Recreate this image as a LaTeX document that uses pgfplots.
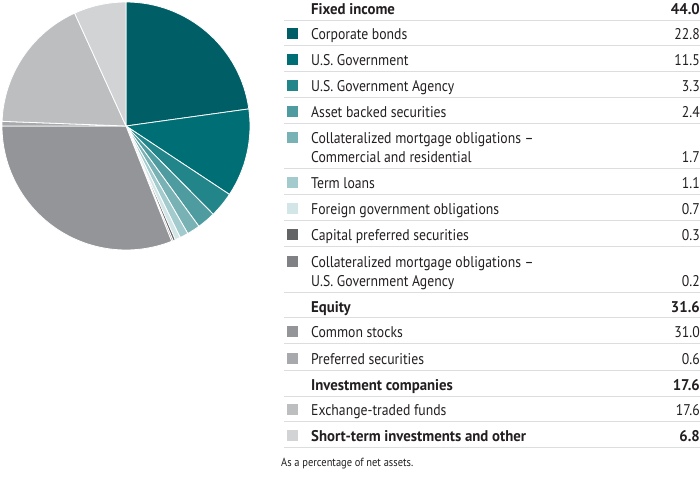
\documentclass[border=0pt]{standalone}
\usepackage{pgfplots}
\pgfplotsset{compat=1.18}
\usepackage{fontspec}
\setmainfont{PT Sans}[UprightFeatures={FakeStretch=0.885}, BoldFeatures={FakeStretch=0.955}]
\definecolor{c1}{HTML}{005F66}
\definecolor{c2}{HTML}{006E75}
\definecolor{c3}{HTML}{21858A}
\definecolor{c4}{HTML}{4E9CA0}
\definecolor{c5}{HTML}{78B2B5}
\definecolor{c6}{HTML}{A3CBCE}
\definecolor{c7}{HTML}{D3E6E7}
\definecolor{c8}{HTML}{636466}
\definecolor{c9}{HTML}{808184}
\definecolor{c10}{HTML}{939598}
\definecolor{c11}{HTML}{A7A9AC}
\definecolor{c12}{HTML}{BCBEC0}
\definecolor{c13}{HTML}{D1D3D4}
\definecolor{rulec}{HTML}{DCDDDE}
\definecolor{txt}{HTML}{231F20}
\newcommand\cum{0}
\newcommand\pieslice[2]{%
  \pgfmathsetmacro\sa{90-3.6*\cum}%
  \pgfmathsetmacro\ea{90-3.6*(\cum+#2)}%
  \pgfmathsetmacro\sx{cos(\sa)}%
  \pgfmathsetmacro\sy{sin(\sa)}%
  \pgfmathsetmacro\newcum{\cum+#2}%
  \xdef\cum{\newcum}%
  \edef\tmp{\noexpand\addplot[fill=#1, draw=white, line width=0.8pt, line join=round] coordinates {(0,0) (\sx,\sy)} arc[start angle=\sa, end angle=\ea, radius=124pt] -- cycle;}%
  \tmp}
\newcommand\fs{\fontsize{15.5}{18}\selectfont}
% row: baseline, colour (or none), label, value
\newcommand\itemrow[4]{%
  \ifx\relax#2\relax\else\fill[#2] (287,#1-11.5) rectangle (298.3,#1-1);\fi
  \node[anchor=base west, inner sep=0, text=txt] at (311,#1) {\fs #3};
  \node[anchor=base east, inner sep=0, text=txt] at (700,#1) {\fs #4};}
\begin{document}
\begin{tikzpicture}
\useasboundingbox (0,0) rectangle (700pt,-476pt);
\begin{axis}[at={(126pt,-126pt)}, anchor=origin, x=124pt, y=124pt,
  xmin=-1, xmax=1, ymin=-1, ymax=1, hide axis, clip=false]
\pieslice{c1}{22.8}
\pieslice{c2}{11.5}
\pieslice{c3}{3.3}
\pieslice{c4}{2.4}
\pieslice{c5}{1.7}
\pieslice{c6}{1.1}
\pieslice{c7}{0.7}
\pieslice{c8}{0.3}
\pieslice{c9}{0.2}
\pieslice{c10}{31.0}
\pieslice{c11}{0.6}
\pieslice{c12}{17.6}
\pieslice{c13}{6.8}
\end{axis}
\begin{scope}[x=1pt, y=-1pt]
\foreach \r in {20,45.3,71.3,97.3,123.3,168.3,194.3,220.3,246.3,292.3,317.3,343.3,370.3,396.3,421.3,447.3}
  \draw[rulec, line width=0.8pt] (284,\r) -- (700,\r);
\itemrow{14.3}{}{\textbf{Fixed income}}{\textbf{44.0}}
\itemrow{39.8}{c1}{Corporate bonds}{22.8}
\itemrow{65.8}{c2}{U.S. Government}{11.5}
\itemrow{91.8}{c3}{U.S. Government Agency}{3.3}
\itemrow{117.8}{c4}{Asset backed securities}{2.4}
\itemrow{143.8}{c5}{Collateralized mortgage obligations --}{}
\itemrow{162.8}{}{Commercial and residential}{1.7}
\itemrow{188.8}{c6}{Term loans}{1.1}
\itemrow{214.8}{c7}{Foreign government obligations}{0.7}
\itemrow{240.8}{c8}{Capital preferred securities}{0.3}
\itemrow{267.8}{c9}{Collateralized mortgage obligations --}{}
\itemrow{286.8}{}{U.S. Government Agency}{0.2}
\itemrow{312.3}{}{\textbf{Equity}}{\textbf{31.6}}
\itemrow{337.8}{c10}{Common stocks}{31.0}
\itemrow{364.8}{c11}{Preferred securities}{0.6}
\itemrow{390.8}{}{\textbf{Investment companies}}{\textbf{17.6}}
\itemrow{415.8}{c12}{Exchange-traded funds}{17.6}
\itemrow{441.8}{c13}{\textbf{Short-term investments and other}}{\textbf{6.8}}
\node[anchor=base west, inner sep=0, text=txt] at (281,466.5) {\fontsize{11.8}{14}\selectfont As a percentage of net assets.};
\end{scope}
\end{tikzpicture}
\end{document}
